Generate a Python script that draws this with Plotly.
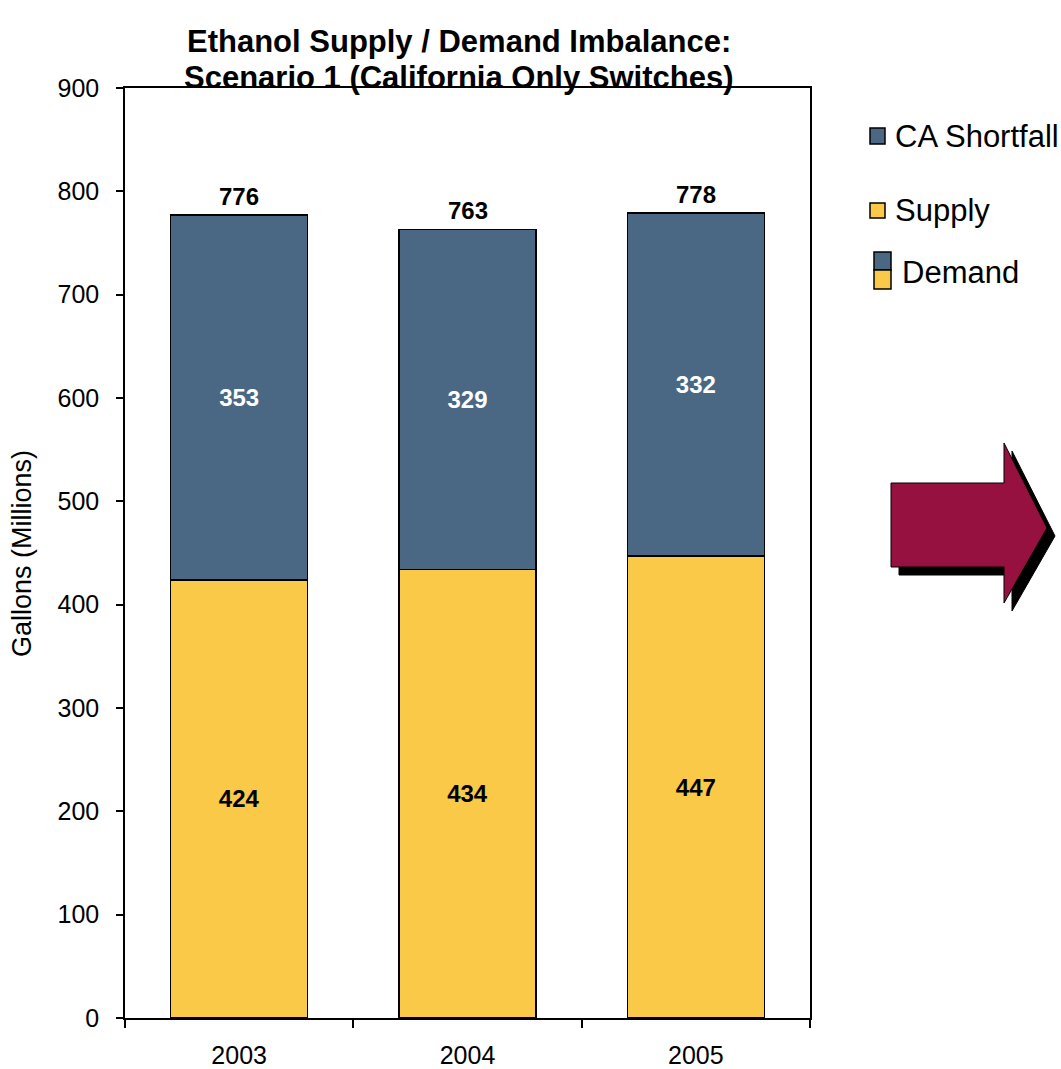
import plotly.graph_objects as go

# Chart data
years = ["2003", "2004", "2005"]
supply = [424, 434, 447]
shortfall = [353, 329, 332]
totals = [776, 763, 778]

BLUE = "#4A6783"
YELLOW = "#F9C947"
MAROON = "#961040"
FONT = "Liberation Sans, Arial, sans-serif"

W, H = 1061, 1069
ML, MR, MT, MB = 125, 251, 88, 51
PW, PH = W - ML - MR, H - MT - MB


def px(x):
    return (x - ML) / PW


def py(y):
    return (H - MB - y) / PH


fig = go.Figure()
fig.add_trace(go.Bar(
    x=years, y=supply, name="Supply", marker=dict(color=YELLOW, line=dict(color="black", width=1.5)),
    text=[str(v) for v in supply], textposition="inside", insidetextanchor="middle",
    textfont=dict(color="black", size=24, family=FONT), texttemplate="<b>%{text}</b>",
    showlegend=False,
))
fig.add_trace(go.Bar(
    x=years, y=shortfall, name="CA Shortfall", marker=dict(color=BLUE, line=dict(color="black", width=1.5)),
    text=[str(v) for v in shortfall], textposition="inside", insidetextanchor="middle",
    textfont=dict(color="white", size=24, family=FONT), texttemplate="<b>%{text}</b>",
    showlegend=False,
))

annotations = []
# totals above each stacked bar (category index used as x position)
for i, t in enumerate(totals):
    annotations.append(dict(x=i, y=t, text=f"<b>{t}</b>", showarrow=False, yanchor="bottom",
                            yshift=4, font=dict(size=24, color="black", family=FONT)))

# Two-line title
for line, ly in [("Ethanol Supply / Demand Imbalance:", 41), ("Scenario 1 (California Only Switches)", 77)]:
    annotations.append(dict(xref="paper", yref="paper", x=px(459), y=py(ly), text=f"<b>{line}</b>",
                            showarrow=False, xanchor="center", yanchor="middle",
                            font=dict(size=31, color="black", family=FONT)))

# Y axis title
annotations.append(dict(xref="paper", yref="paper", x=px(22), y=py(554), text="Gallons (Millions)",
                        textangle=-90, showarrow=False, xanchor="center", yanchor="middle",
                        font=dict(size=27, color="black", family=FONT)))

# Legend drawn by hand
shapes = []


def box(x0, y0, x1, y1, color):
    shapes.append(dict(type="rect", xref="paper", yref="paper", x0=px(x0), x1=px(x1),
                       y0=py(y1), y1=py(y0), fillcolor=color, line=dict(color="black", width=1.5)))


box(870, 128, 885, 144, BLUE)
box(870, 203, 885, 218, YELLOW)
box(874, 252, 891, 270, BLUE)
box(874, 270, 891, 289, YELLOW)
for label, lx, ly in [("CA Shortfall", 893, 136), ("Supply", 893, 210), ("Demand", 900, 272)]:
    annotations.append(dict(xref="paper", yref="paper", x=px(lx), y=py(ly), text=label, showarrow=False,
                            xanchor="left", yanchor="middle", font=dict(size=31, color="black", family=FONT)))

# Block arrow with drop shadow
arrow = [(891, 483), (1004, 483), (1004, 443), (1047, 528), (1004, 603), (1004, 567), (891, 567)]


def arrow_path(dx, dy):
    pts = [f"{px(x + dx)},{py(y + dy)}" for x, y in arrow]
    return "M " + " L ".join(pts) + " Z"


shapes.append(dict(type="path", xref="paper", yref="paper", path=arrow_path(8, 8),
                   fillcolor="black", line=dict(color="black", width=1)))
shapes.append(dict(type="path", xref="paper", yref="paper", path=arrow_path(0, 0),
                   fillcolor=MAROON, line=dict(color="black", width=1)))

fig.update_layout(
    width=W, height=H,
    margin=dict(l=ML, r=MR, t=MT, b=MB, autoexpand=False),
    paper_bgcolor="white", plot_bgcolor="white",
    barmode="stack", bargap=0.4,
    font=dict(family=FONT, size=25, color="black"),
    xaxis=dict(type="category", range=[-0.5, 2.5], showline=True, linecolor="black", linewidth=1.5,
               mirror=True, ticks="outside", ticklen=8, tickcolor="black", tickwidth=1.5,
               tickson="boundaries", tickfont=dict(size=25), ticklabelstandoff=14,
               showgrid=False, automargin=False),
    yaxis=dict(range=[0, 900], dtick=100, showline=True, linecolor="black", linewidth=1.5, mirror=True,
               ticks="outside", ticklen=7, tickcolor="black", tickwidth=1.5, showgrid=False,
               tickfont=dict(size=25), ticklabelstandoff=12, automargin=False),
    annotations=annotations,
    shapes=shapes,
    uniformtext=dict(mode=False),
)

fig.write_html("out.html")
